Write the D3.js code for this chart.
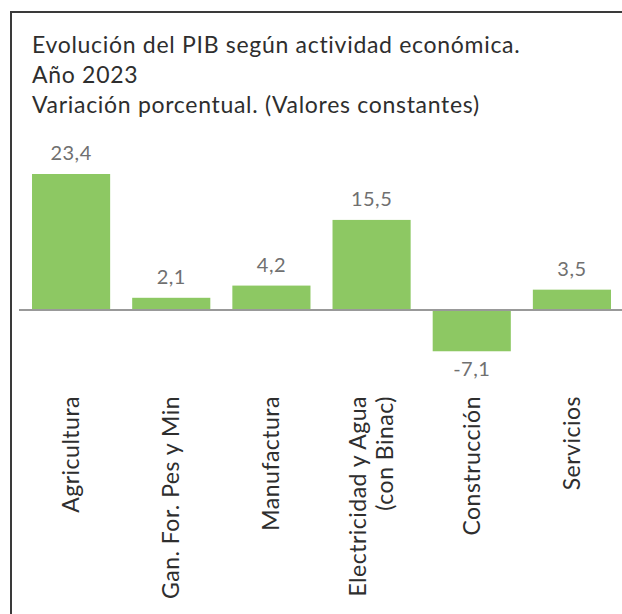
<!DOCTYPE html>
<html>
<head>
<meta charset="utf-8">
<script src="https://cdn.jsdelivr.net/npm/d3@7"></script>
<style>
  body { margin: 0; background: #fff; }
  svg { display: block; }
</style>
</head>
<body>
<div id="chart"></div>
<script>
var width = 622;
var height = 614;

var titleLines = [
  "Evolución del PIB según actividad económica.",
  "Año 2023",
  "Variación porcentual. (Valores constantes)"
];
var categories = ["Agricultura", "Gan. For. Pes y Min", "Manufactura",
                  "Electricidad y Agua|(con Binac)", "Construcción", "Servicios"];
var values = [23.4, 2.1, 4.2, 15.5, -7.1, 3.5];

var svg = d3.select("#chart").append("svg")
  .attr("width", width)
  .attr("height", height);

// frame (left and top edges only visible)
svg.append("path")
  .attr("d", "M11,614 L11,12 L622,12")
  .attr("fill", "none")
  .attr("stroke", "#3a3a3a")
  .attr("stroke-width", 2);

// title
svg.selectAll(".title")
  .data(titleLines)
  .enter().append("text")
  .attr("class", "title")
  .attr("x", 32)
  .attr("y", function (d, i) { return 53 + i * 30; })
  .style("font-family", "Lato, 'Open Sans', sans-serif")
  .style("font-size", "23px")
  .style("letter-spacing", "0.7px")
  .style("fill", "#2e2e2e")
  .text(function (d) { return d; });

var x = d3.scaleBand()
  .domain(categories)
  .range([21, 622])
  .paddingInner(0.22)
  .paddingOuter(0.11);

var y = d3.scaleLinear()
  .domain([0, 23.4])
  .range([310, 174]);

var fmt = function (v) { return d3.format(".1f")(v).replace(".", ",").replace("\u2212", "-"); };

// bars
svg.selectAll(".bar")
  .data(values)
  .enter().append("rect")
  .attr("class", "bar")
  .attr("x", function (d, i) { return x(categories[i]); })
  .attr("y", function (d) { return y(Math.max(0, d)); })
  .attr("width", x.bandwidth())
  .attr("height", function (d) { return Math.abs(y(d) - y(0)); })
  .attr("fill", "#8dc863");

// zero line
svg.append("line")
  .attr("x1", 19)
  .attr("x2", 622)
  .attr("y1", y(0))
  .attr("y2", y(0))
  .attr("stroke", "#999")
  .attr("stroke-width", 2);

// value labels
svg.selectAll(".val")
  .data(values)
  .enter().append("text")
  .attr("class", "val")
  .attr("x", function (d, i) { return x(categories[i]) + x.bandwidth() / 2; })
  .attr("y", function (d) { return d >= 0 ? y(d) - 14 : y(d) + 25; })
  .attr("text-anchor", "middle")
  .style("font-family", "Lato, 'Open Sans', sans-serif")
  .style("font-size", "20px")
  .style("letter-spacing", "0.5px")
  .style("fill", "#707070")
  .text(fmt);

// category labels, rotated
var lineH = 27;
var cat = svg.selectAll(".cat")
  .data(categories)
  .enter().append("text")
  .attr("class", "cat")
  .attr("transform", function (d) {
    var n = d.split("|").length;
    var cx = x(d) + x.bandwidth() / 2 - (n - 1) * lineH / 2 + 8;
    return "translate(" + cx + ",396) rotate(-90)";
  })
  .attr("text-anchor", "end")
  .style("font-family", "Lato, 'Open Sans', sans-serif")
  .style("font-size", "23px")
  .style("letter-spacing", "0.5px")
  .style("fill", "#2e2e2e");

cat.selectAll("tspan")
  .data(function (d) { return d.split("|"); })
  .enter().append("tspan")
  .attr("x", 0)
  .attr("dy", function (d, i) { return i === 0 ? 0 : lineH; })
  .text(function (d) { return d; });
</script>
</body>
</html>
